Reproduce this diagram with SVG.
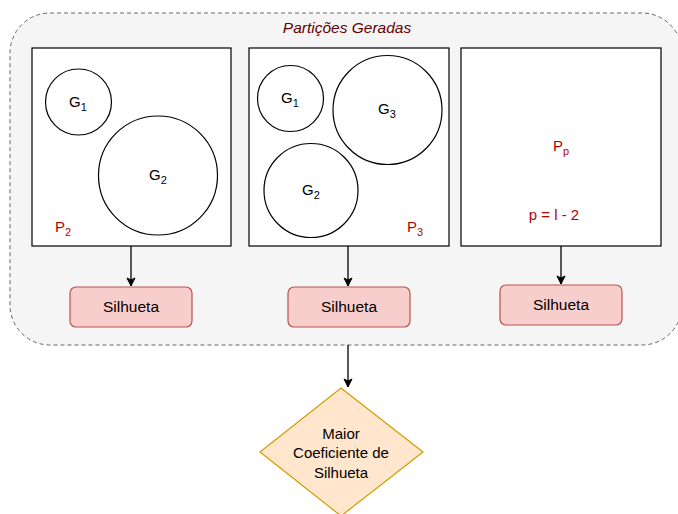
<svg xmlns="http://www.w3.org/2000/svg" width="678" height="514" viewBox="0 0 678 514">
<defs>
<marker id="arr" markerWidth="12" markerHeight="12" refX="9" refY="5.5" orient="auto" markerUnits="userSpaceOnUse">
<path d="M1,1.5 L9,5.5 L1,9.5 L3,5.5 Z" fill="#000" stroke="#000" stroke-width="1"/>
</marker>
<style>
text{font-family:"Liberation Sans",Arial,sans-serif;}
.part{fill:#fff;stroke:#000;stroke-width:1.2;}
.cl{fill:none;stroke:#000;stroke-width:1.2;}
.g{font-size:15px;fill:#000;text-anchor:middle;}
.sub{font-size:11px;}
.p{font-size:15px;fill:#b20000;text-anchor:middle;}
.sil{fill:#f8cecc;stroke:#b85450;stroke-width:1.2;}
.silt{font-size:15.5px;fill:#000;text-anchor:middle;}
.dt{font-size:15px;fill:#000;text-anchor:middle;}
.edge{stroke:#000;stroke-width:1.3;fill:none;marker-end:url(#arr);}
</style>
</defs>
<rect width="678" height="514" fill="#fff"/>
<g id="container">
<rect x="10" y="13" width="672" height="332" rx="40" ry="40" fill="#f5f5f5" stroke="#666" stroke-width="1" stroke-dasharray="4 3"/>
<text x="347" y="33" font-size="15.5" font-style="italic" fill="#660000" text-anchor="middle">Partições Geradas</text>
</g>
<g id="p2">
<rect class="part" x="32" y="48" width="199" height="198"/>
<circle class="cl" cx="78.5" cy="102" r="33"/>
<circle class="cl" cx="158" cy="175.5" r="59.5"/>
<text class="g" x="78" y="107">G<tspan class="sub" dy="4">1</tspan></text>
<text class="g" x="158" y="180">G<tspan class="sub" dy="4">2</tspan></text>
<text class="p" x="63" y="232">P<tspan class="sub" dy="4">2</tspan></text>
</g>
<g id="p3">
<rect class="part" x="249" y="48" width="200" height="198"/>
<circle class="cl" cx="290.5" cy="98.5" r="33"/>
<circle class="cl" cx="387.5" cy="110" r="54.5"/>
<circle class="cl" cx="311" cy="190.5" r="47"/>
<text class="g" x="290" y="103">G<tspan class="sub" dy="4">1</tspan></text>
<text class="g" x="387" y="114">G<tspan class="sub" dy="4">3</tspan></text>
<text class="g" x="311" y="195">G<tspan class="sub" dy="4">2</tspan></text>
<text class="p" x="415" y="232">P<tspan class="sub" dy="4">3</tspan></text>
</g>
<g id="pp">
<rect class="part" x="461" y="48" width="200" height="198"/>
<text class="p" x="561" y="151">P<tspan class="sub" dy="4">p</tspan></text>
<text class="p" x="554" y="220">p = l - 2</text>
</g>
<g id="sil1">
<rect class="sil" x="70" y="287" width="122" height="40" rx="6"/>
<text class="silt" x="131" y="312">Silhueta</text>
</g>
<g id="sil2">
<rect class="sil" x="288" y="287" width="122" height="40" rx="6"/>
<text class="silt" x="349" y="312">Silhueta</text>
</g>
<g id="sil3">
<rect class="sil" x="500" y="285" width="122" height="40" rx="6"/>
<text class="silt" x="561" y="310">Silhueta</text>
</g>
<g id="decision">
<polygon points="341,388 423,452 341,516 260,452" fill="#ffe6cc" stroke="#d79b00" stroke-width="1.2"/>
<text class="dt" x="341" y="439">Maior</text>
<text class="dt" x="341" y="458">Coeficiente de</text>
<text class="dt" x="341" y="478">Silhueta</text>
</g>
<g id="connectors">
<line class="edge" x1="131" y1="246" x2="131" y2="286"/>
<line class="edge" x1="348" y1="246" x2="348" y2="286"/>
<line class="edge" x1="561" y1="246" x2="561" y2="284"/>
<line class="edge" x1="348" y1="345" x2="348" y2="387"/>
</g>
</svg>
